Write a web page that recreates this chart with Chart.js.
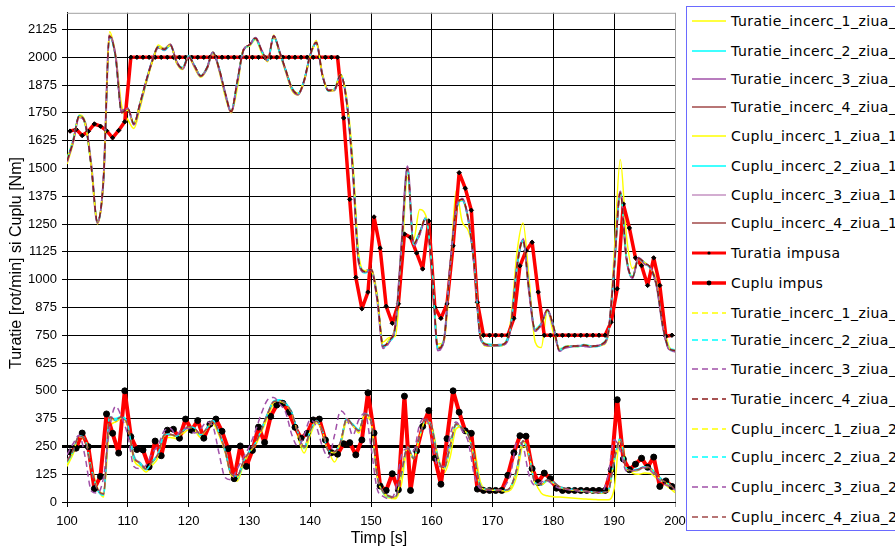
<!DOCTYPE html>
<html>
<head>
<meta charset="utf-8">
<script src="https://cdn.jsdelivr.net/npm/chart.js@4.4.1/dist/chart.umd.min.js"></script>
<style>
  html, body { margin: 0; padding: 0; overflow: hidden; background: #fff; }
  #wrap { position: relative; width: 895px; height: 549px; overflow: hidden; }
  #grafic { position: absolute; left: 0; top: 0; }
  #legenda { position: absolute; left: 686px; top: 6px; width: 280px; height: 523px;
             border: 1px solid #6a6aff; background: #fff; }
  .item { position: absolute; left: 0; height: 20px; width: 280px; white-space: nowrap;
          font-family: "DejaVu Sans", sans-serif; font-size: 14px; letter-spacing: 0.45px;
          line-height: 20px; color: #000; }
  .item svg { position: absolute; left: 4px; top: 0; }
  .item span { position: absolute; left: 44px; top: 0; }
</style>
</head>
<body>
<div id="wrap">
  <canvas id="grafic" width="895" height="549"></canvas>
  <div id="legenda"></div>
</div>
<script>
// Sample times: measured signals every second, imposed set-points on the half second
const secunde = Array.from({ length: 101 }, (_, i) => 100 + i);
const secundeImpus = Array.from({ length: 100 }, (_, i) => 100.5 + i);

// Axis ticks
const ticksTimp = [100, 110, 120, 130, 140, 150, 160, 170, 180, 190, 200];
const ticksValori = [0, 125, 250, 375, 500, 625, 750, 875, 1000, 1125, 1250, 1375, 1500, 1625, 1750, 1875, 2000, 2125];

// Measured speed [rot/min], day 1
const turatie1Ziua1 = [
  1520,1610,1740,1710,1500,1250,1440,2115,2010,1780,
  1720,1680,1770,1880,1975,2055,2040,2060,1975,1945,
  2000,1950,1910,1945,2025,1940,1825,1750,1860,2035,
  2050,2080,2020,1980,2100,2015,1930,1850,1830,1890,
  2005,2075,1925,1850,1850,1915,1820,1540,1110,1040,
  1050,940,720,740,745,1050,1460,1180,1315,1290,
  1090,710,720,1020,1400,1260,1220,1100,760,700,
  700,700,710,820,1120,1255,1000,720,695,860,
  760,690,695,700,698,702,698,700,705,745,
  1120,1540,1200,1050,1080,1070,1055,990,820,700,
  675];
const turatie2Ziua1 = [
  1540,1630,1738,1695,1505,1265,1455,2090,1995,1755,
  1765,1705,1795,1895,1985,2048,2030,2052,1978,1955,
  2008,1962,1918,1955,2022,1955,1838,1758,1885,2032,
  2052,2082,2028,1990,2090,2018,1942,1865,1838,1900,
  2012,2062,1918,1848,1858,1925,1805,1510,1090,1030,
  1040,925,705,720,785,1130,1490,1165,1215,1270,
  1065,695,735,1050,1305,1355,1265,1065,745,712,
  708,702,715,795,1050,1170,955,778,805,858,
  795,686,700,702,698,708,703,698,712,760,
  1045,1385,1105,1015,1090,1078,1048,975,795,695,
  685];
const turatie3Ziua1 = [
  1530,1620,1730,1705,1515,1255,1448,2098,2005,1762,
  1768,1698,1788,1888,1982,2042,2038,2058,1982,1948,
  2002,1958,1915,1948,2020,1948,1842,1755,1888,2030,
  2055,2088,2032,1985,2096,2022,1938,1858,1832,1893,
  2008,2066,1922,1852,1852,1918,1800,1495,1075,1038,
  1048,915,695,728,792,1150,1510,1155,1205,1278,
  1055,685,728,1060,1315,1362,1272,1058,738,706,
  703,707,710,788,1060,1180,945,770,798,865,
  788,680,695,698,703,702,698,702,708,755,
  1055,1395,1098,1008,1098,1072,1052,968,788,688,
  678];
const turatie4Ziua1 = [
  1533,1623,1735,1700,1510,1260,1450,2095,2000,1750,
  1770,1700,1790,1890,1980,2045,2035,2055,1980,1950,
  2000,1960,1915,1950,2020,1950,1840,1755,1890,2030,
  2055,2085,2030,1985,2095,2020,1940,1860,1835,1895,
  2010,2065,1920,1850,1855,1920,1800,1500,1080,1035,
  1045,920,700,725,790,1140,1500,1160,1210,1275,
  1060,690,730,1056,1310,1360,1270,1060,740,708,
  705,705,712,790,1056,1175,950,772,800,862,
  790,682,697,700,700,705,700,700,710,757,
  1050,1390,1100,1010,1095,1075,1050,970,790,690,
  680];

// Measured torque [Nm], day 1
const cuplu1Ziua1 = [
  160,215,285,285,165,65,22,330,360,375,
  340,190,160,135,165,200,290,290,285,305,
  325,320,290,318,350,300,225,120,95,165,
  215,255,315,380,440,452,440,395,290,220,
  300,355,320,235,180,250,360,350,310,380,
  365,130,40,18,15,80,240,200,280,355,
  340,210,130,200,330,340,310,240,90,55,
  48,45,45,55,120,250,225,95,40,28,
  24,22,20,18,16,14,12,11,10,10,
  60,300,175,130,125,130,128,105,85,65,
  42];
const cuplu2Ziua1 = [
  175,225,290,290,160,55,30,375,375,385,
  350,210,170,145,175,220,305,300,300,320,
  335,330,300,325,360,315,235,130,105,175,
  230,270,330,400,455,460,445,400,305,240,
  315,365,325,235,220,265,370,350,325,390,
  370,125,42,22,20,120,250,200,290,375,
  340,200,145,245,345,335,305,210,75,58,
  55,54,52,66,145,270,215,88,75,95,
  85,66,58,55,52,49,46,44,43,48,
  180,290,160,145,150,160,152,125,98,82,
  58];
const cuplu3Ziua1 = [
  185,235,300,275,145,58,38,380,368,378,
  342,205,178,150,182,218,298,302,298,314,
  336,328,305,332,362,312,232,128,118,182,
  228,268,328,398,452,452,438,396,308,248,
  322,362,318,232,228,272,372,342,318,392,
  362,118,48,28,22,135,242,198,298,368,
  332,192,152,252,352,328,298,198,72,58,
  56,54,53,70,152,272,208,84,80,100,
  90,70,62,57,54,51,48,44,43,48,
  195,278,148,138,143,156,148,118,93,78,
  54];
const cuplu4Ziua1 = [
  180,230,295,280,150,60,35,385,365,380,
  345,200,175,148,180,215,300,305,295,316,
  339,330,303,330,365,310,230,125,115,180,
  225,264,325,395,450,455,440,399,310,245,
  320,365,320,230,225,270,375,345,320,395,
  365,120,45,25,20,130,245,195,295,370,
  335,195,150,250,350,330,300,200,70,57,
  55,53,52,68,150,275,210,85,78,98,
  88,68,60,56,53,50,47,43,42,47,
  190,280,150,140,145,158,150,120,95,80,
  55];

// Imposed set-points
const turatiaImpusa = [
  1668,1676,1648,1667,1700,1690,1670,1638,1671,1710,
  2000,2000,2000,2000,2000,2000,2000,2000,2000,2000,
  2000,2000,2000,2000,2000,2000,2000,2000,2000,2000,
  2000,2000,2000,2000,2000,2000,2000,2000,2000,2000,
  2000,2000,2000,2000,2000,1727,1361,1010,869,944,
  1282,1142,880,804,891,1205,1190,1120,1048,1264,
  875,826,891,1152,1481,1411,1312,898,750,750,
  750,750,750,826,1062,1130,1168,944,750,750,
  750,750,750,750,750,750,750,750,750,809,
  959,1340,1232,1098,1063,974,1098,974,745,750];
const cupluImpus = [
  225,242,310,249,60,115,396,309,220,500,
  294,236,234,158,274,208,323,327,287,373,
  323,366,287,350,373,318,240,105,252,160,
  232,337,268,385,436,444,404,336,287,309,
  369,373,279,222,215,262,267,212,279,491,
  310,72,52,127,55,476,52,230,340,411,
  197,80,285,500,404,320,309,58,52,52,
  52,52,120,222,298,296,150,88,130,105,
  62,52,52,52,52,52,52,52,52,145,
  460,193,145,170,197,156,202,70,95,70];

// Measured speed [rot/min], day 2
const turatie1Ziua2 = [
  1545,1628,1732,1698,1508,1262,1452,2100,2002,1758,
  1762,1702,1792,1892,1978,2046,2034,2054,1976,1952,
  2004,1956,1918,1952,2018,1952,1836,1758,1886,2034,
  2050,2084,2026,1988,2092,2016,1944,1862,1838,1898,
  2006,2062,1924,1848,1858,1922,1808,1512,1095,1040,
  1042,918,702,730,795,1145,1495,1162,1212,1280,
  1062,695,732,1058,1312,1358,1268,1062,742,710,
  706,704,714,792,1058,1178,952,775,802,860,
  792,684,699,702,701,706,701,701,711,758,
  1052,1388,1102,1012,1092,1077,1051,972,792,692,
  682];
const turatie2Ziua2 = [
  1538,1625,1737,1702,1512,1258,1446,2093,1998,1752,
  1766,1698,1786,1886,1984,2044,2036,2056,1981,1949,
  2006,1961,1916,1949,2023,1951,1839,1757,1889,2031,
  2053,2086,2029,1987,2094,2019,1939,1859,1836,1896,
  2009,2064,1921,1849,1856,1921,1802,1505,1085,1036,
  1046,921,698,722,788,1142,1502,1158,1208,1276,
  1058,688,729,1054,1308,1361,1271,1061,739,707,
  704,706,711,791,1055,1176,951,771,799,861,
  789,681,696,699,700,704,699,699,709,756,
  1048,1392,1099,1009,1096,1074,1049,969,789,689,
  679];
const turatie3Ziua2 = [
  1528,1618,1733,1704,1506,1256,1460,2102,2004,1748,
  1772,1696,1794,1894,1986,2047,2033,2057,1979,1947,
  2001,1957,1914,1953,2024,1949,1837,1752,1892,2033,
  2054,2089,2031,1984,2097,2021,1941,1857,1833,1894,
  2011,2067,1919,1851,1853,1919,1798,1490,1070,1032,
  1044,912,690,718,795,1160,1505,1150,1200,1272,
  1050,680,725,1065,1320,1365,1275,1055,735,704,
  702,703,708,785,1065,1185,942,768,796,866,
  786,678,694,697,702,701,697,703,707,762,
  1060,1398,1096,1006,1100,1070,1054,966,786,686,
  676];
const turatie4Ziua2 = [
  1535,1621,1736,1701,1509,1261,1451,2096,2001,1751,
  1769,1701,1791,1891,1981,2046,2036,2054,1981,1951,
  2001,1961,1916,1951,2021,1951,1841,1756,1891,2031,
  2056,2086,2031,1986,2096,2021,1941,1861,1836,1896,
  2011,2066,1921,1851,1856,1921,1801,1502,1082,1036,
  1046,921,701,726,791,1141,1501,1161,1211,1276,
  1061,691,731,1057,1311,1361,1271,1061,741,709,
  706,706,713,791,1057,1176,951,773,801,863,
  791,683,698,701,701,706,701,701,711,758,
  1051,1391,1101,1011,1096,1076,1051,971,791,691,
  681];

// Measured torque [Nm], day 2
const cuplu1Ziua2 = [
  170,225,292,282,155,62,38,378,362,378,
  340,202,172,150,178,212,298,302,292,312,
  335,328,300,328,362,308,228,122,112,178,
  222,262,322,392,448,452,438,396,308,242,
  318,362,318,228,222,268,372,342,318,392,
  362,118,44,24,18,125,242,192,292,368,
  332,192,148,248,348,328,298,198,68,55,
  53,51,50,66,148,272,208,84,76,95,
  85,66,58,54,51,48,45,42,41,45,
  185,278,148,138,143,156,148,118,93,78,
  52];
const cuplu2Ziua2 = [
  178,228,298,278,148,58,33,382,368,382,
  348,198,176,146,182,218,302,306,296,318,
  338,332,302,332,366,312,232,126,116,182,
  226,266,326,396,451,456,441,400,311,246,
  321,366,321,231,226,271,376,346,321,396,
  366,121,46,26,21,131,246,196,296,371,
  336,196,151,251,351,331,301,201,71,58,
  56,54,53,69,151,276,211,86,79,99,
  89,69,61,57,54,51,48,44,43,48,
  192,282,152,142,146,159,151,121,96,81,
  56];
const cuplu3Ziua2 = [
  212,262,300,200,50,40,110,330,430,380,
  300,160,150,165,220,255,320,330,300,330,
  330,310,330,360,340,220,110,100,150,200,
  250,320,400,460,470,440,400,300,250,300,
  370,340,250,200,300,410,380,300,370,400,
  250,60,25,15,50,210,240,230,350,380,
  280,160,160,300,360,320,270,120,60,55,
  53,52,70,130,270,250,120,75,90,95,
  75,62,57,54,50,48,45,42,45,120,
  280,230,140,140,150,155,140,110,85,70,
  55];
const cuplu4Ziua2 = [
  182,232,296,278,148,58,36,380,372,382,
  344,202,176,149,181,216,301,304,296,317,
  338,331,304,331,364,311,231,126,116,181,
  226,265,326,396,451,454,441,398,311,246,
  321,364,321,231,226,271,374,346,321,394,
  364,121,46,26,21,131,244,196,296,371,
  334,196,151,251,351,331,301,201,71,58,
  56,54,53,69,151,274,211,86,79,99,
  89,69,61,57,54,51,48,44,43,48,
  191,281,151,141,146,159,151,121,96,81,
  56];

const GALBEN = '#ffff00', TURCOAZ = '#00ffff', MOV = '#a050a8', MOV_DESCHIS = '#c492c2',
      MARO = '#a04848', MARO_INCHIS = '#8b1a1a', ROSU = '#ff0000';
const LINIUTE = [6, 4];

function masurat(label, valori, culoare, extra) {
  return Object.assign({
    label,
    data: valori.map((v, i) => ({ x: secunde[i], y: v })),
    borderColor: culoare,
    backgroundColor: culoare,
    borderWidth: 1.5,
    borderJoinStyle: 'round',
    pointRadius: 0,
    fill: false,
    cubicInterpolationMode: 'monotone'
  }, extra || {});
}
function impus(label, valori, latime, marcaj, raza) {
  return {
    label,
    data: valori.map((v, i) => ({ x: secundeImpus[i], y: v })),
    borderColor: ROSU,
    backgroundColor: '#000',
    borderWidth: latime,
    borderJoinStyle: 'round',
    borderCapStyle: 'round',
    pointStyle: marcaj,
    pointRadius: raza,
    pointBorderColor: '#000',
    pointBackgroundColor: '#000',
    pointBorderWidth: 1,
    fill: false,
    tension: 0
  };
}

const seturi = [
  masurat('Turatie_incerc_1_ziua_1', turatie1Ziua1, GALBEN),
  masurat('Turatie_incerc_2_ziua_1', turatie2Ziua1, TURCOAZ),
  masurat('Turatie_incerc_3_ziua_1', turatie3Ziua1, MOV, { borderWidth: 2 }),
  masurat('Turatie_incerc_4_ziua_1', turatie4Ziua1, MARO),
  masurat('Cuplu_incerc_1_ziua_1', cuplu1Ziua1, GALBEN),
  masurat('Cuplu_incerc_2_ziua_1', cuplu2Ziua1, TURCOAZ),
  masurat('Cuplu_incerc_3_ziua_1', cuplu3Ziua1, MOV_DESCHIS),
  masurat('Cuplu_incerc_4_ziua_1', cuplu4Ziua1, MARO),
  impus('Turatia impusa', turatiaImpusa, 3.5, 'rectRot', 2.2),
  impus('Cuplu impus', cupluImpus, 4, 'circle', 3),
  masurat('Turatie_incerc_1_ziua_2', turatie1Ziua2, GALBEN, { borderDash: LINIUTE }),
  masurat('Turatie_incerc_2_ziua_2', turatie2Ziua2, TURCOAZ, { borderDash: LINIUTE }),
  masurat('Turatie_incerc_3_ziua_2', turatie3Ziua2, MOV, { borderDash: LINIUTE }),
  masurat('Turatie_incerc_4_ziua_2', turatie4Ziua2, MARO_INCHIS, { borderDash: LINIUTE }),
  masurat('Cuplu_incerc_1_ziua_2', cuplu1Ziua2, GALBEN, { borderDash: LINIUTE }),
  masurat('Cuplu_incerc_2_ziua_2', cuplu2Ziua2, TURCOAZ, { borderDash: LINIUTE }),
  masurat('Cuplu_incerc_3_ziua_2', cuplu3Ziua2, MOV, { borderDash: LINIUTE }),
  masurat('Cuplu_incerc_4_ziua_2', cuplu4Ziua2, MARO, { borderDash: LINIUTE })
];
// later series are painted over earlier ones
seturi.forEach((s, i) => { s.order = seturi.length - i; });

// Grey frame on the top and right edges, plus the axis titles
const ramaSiTitluri = {
  id: 'ramaSiTitluri',
  beforeDatasetsDraw(chart) {
    const { ctx, chartArea: a } = chart;
    ctx.save();
    ctx.strokeStyle = '#a0a0a0';
    ctx.lineWidth = 1;
    ctx.beginPath();
    ctx.moveTo(a.left, a.top + 0.5);
    ctx.lineTo(a.right + 0.5, a.top + 0.5);
    ctx.lineTo(a.right + 0.5, a.bottom);
    ctx.stroke();
    ctx.restore();
  },
  afterDraw(chart) {
    const { ctx } = chart;
    ctx.save();
    ctx.fillStyle = '#000';
    ctx.font = '16px "Liberation Sans", Arial, sans-serif';
    ctx.textAlign = 'center';
    ctx.textBaseline = 'middle';
    ctx.fillText('Timp [s]', 379, 539);
    ctx.translate(17, 263);
    ctx.rotate(-Math.PI / 2);
    ctx.fillText('Turatie [rot/min] si Cuplu [Nm]', 0, 0);
    ctx.restore();
  }
};

const fontTick = { family: '"Liberation Sans", Arial, sans-serif', size: 13 };

new Chart(document.getElementById('grafic'), {
  type: 'line',
  data: { datasets: seturi },
  options: {
    responsive: false,
    animation: false,
    devicePixelRatio: 1,
    layout: { padding: { left: 0, right: 220, top: 11, bottom: 0 } },
    plugins: { legend: { display: false }, tooltip: { enabled: false } },
    scales: {
      x: {
        type: 'linear',
        min: 100, max: 200,
        afterBuildTicks: s => { s.ticks = ticksTimp.map(v => ({ value: v })); },
        afterFit: s => { s.height = 47; },
        ticks: { color: '#000', font: fontTick, padding: 7, maxRotation: 0, autoSkip: false,
                 callback: v => String(v) },
        grid: {
          color: c => (c.tick && c.tick.value === 200) ? '#a0a0a0' : '#000',
          lineWidth: 1,
          tickLength: 5
        },
        border: { color: '#000', width: 1 }
      },
      y: {
        type: 'linear',
        min: 0, max: 2200,
        afterBuildTicks: s => { s.ticks = ticksValori.map(v => ({ value: v })); },
        afterFit: s => { s.width = 67; },
        ticks: { color: '#000', font: fontTick, padding: 5, autoSkip: false,
                 callback: v => String(v) },
        grid: {
          color: '#000',
          lineWidth: c => (c.tick && c.tick.value === 250) ? 3 : 1,
          tickLength: 5
        },
        border: { color: '#000', width: 1 }
      }
    }
  },
  plugins: [ramaSiTitluri]
});

// Legend: one row per series, in series order
const randuriY = [20.7, 50.7, 79.3, 106.7, 136, 165.7, 195, 223.3, 253.3, 283.3,
                  312.7, 340, 369.3, 399.3, 429.3, 457.3, 487.3, 516.7];
const legenda = document.getElementById('legenda');
seturi.forEach((s, i) => {
  const rand = document.createElement('div');
  rand.className = 'item';
  rand.style.top = (randuriY[i] - 10 - 7) + 'px';
  const svgNS = 'http://www.w3.org/2000/svg';
  const svg = document.createElementNS(svgNS, 'svg');
  svg.setAttribute('width', '38');
  svg.setAttribute('height', '20');
  const linie = document.createElementNS(svgNS, 'line');
  linie.setAttribute('x1', '1'); linie.setAttribute('x2', '35');
  linie.setAttribute('y1', '10'); linie.setAttribute('y2', '10');
  linie.setAttribute('stroke', s.borderColor);
  linie.setAttribute('stroke-width', s.pointRadius ? String(s.borderWidth - 0.5) : '1.5');
  if (s.borderDash) linie.setAttribute('stroke-dasharray', s.borderDash.join(' '));
  svg.appendChild(linie);
  if (s.pointRadius) {
    const punct = document.createElementNS(svgNS, 'circle');
    punct.setAttribute('cx', '18'); punct.setAttribute('cy', '10');
    punct.setAttribute('r', String(s.pointRadius - 0.6));
    punct.setAttribute('fill', '#000');
    svg.appendChild(punct);
  }
  rand.appendChild(svg);
  const text = document.createElement('span');
  text.textContent = s.label;
  rand.appendChild(text);
  legenda.appendChild(rand);
});
</script>
</body>
</html>
